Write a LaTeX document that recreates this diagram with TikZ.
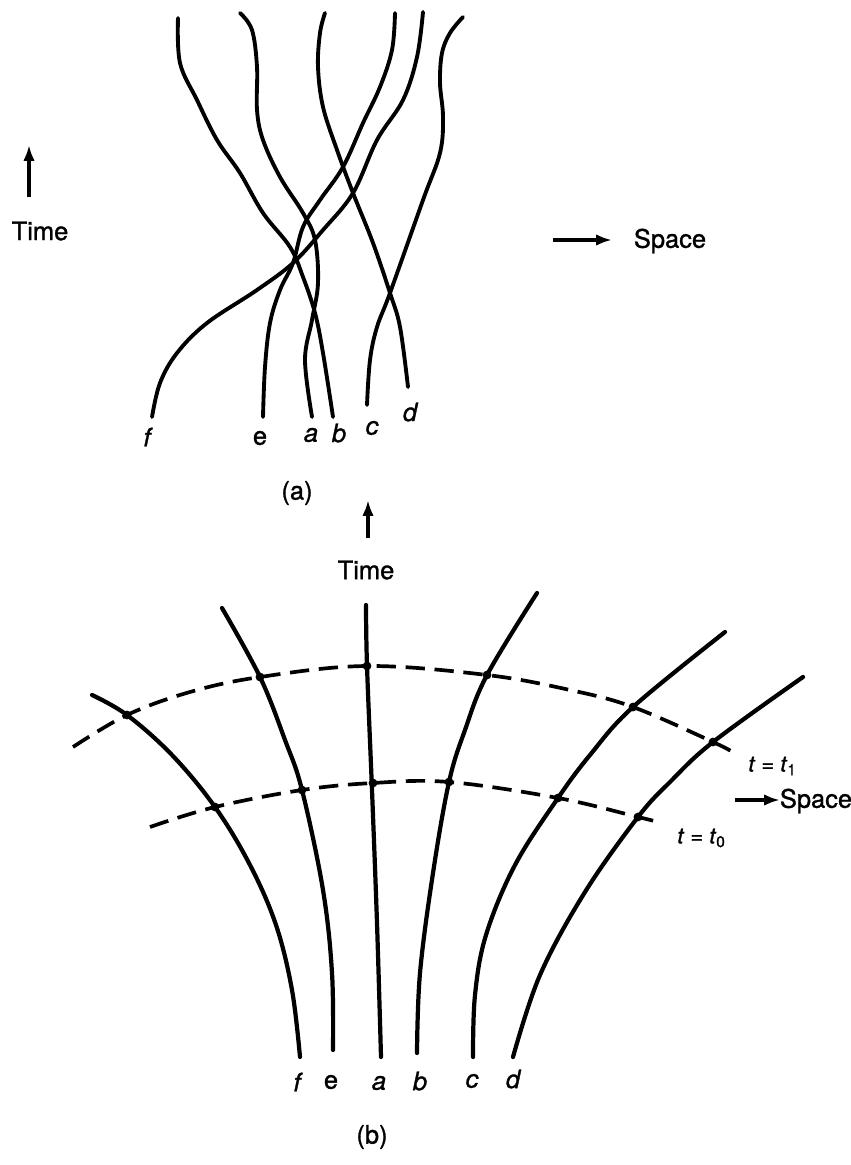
\documentclass[tikz,border=0pt]{standalone}
\usepackage{fontspec}
\setmainfont{TeX Gyre Heros}[RawFeature={embolden=1.2}]
\usetikzlibrary{arrows.meta}

\begin{document}
\begin{tikzpicture}[x=0.02cm,y=-0.02cm,
 wl/.style={line width=2.2pt,line cap=round},
 wlb/.style={line width=2.4pt,line cap=round},
 tslice/.style={line width=2.1pt,dash pattern=on 11pt off 5.5pt},
 ax/.style={-{Latex[length=9pt,width=6.5pt]},line width=1.9pt},
 lbl/.style={font=\fontsize{14.5}{16}\selectfont\itshape,inner sep=0pt},
 txt/.style={font=\fontsize{14.5}{16}\selectfont,inner sep=0pt},
 tl/.style={font=\fontsize{12.5}{14}\selectfont,inner sep=0pt,anchor=west},
 ev/.style={circle,fill,inner sep=0pt,minimum size=5pt}]
\useasboundingbox (0,0) rectangle (850,1165);

% (a) tangled world lines
\draw[wl] plot[smooth,tension=.6] coordinates {(178,18) (180,63) (197,100) (217,140) (240,173) (263,213) (290,247) (303,277) (315,313) (323,353) (333,417)};
\draw[wl] plot[smooth,tension=.6] coordinates {(240,13) (252,30) (257,67) (257,110) (263,140) (280,177) (303,213) (315,240) (318,283) (312,320) (305,360) (312,417)};
\draw[wl] plot[smooth,tension=.6] coordinates {(325,13) (320,33) (318,67) (323,107) (337,150) (353,193) (373,243) (390,293) (400,327) (408,387)};
\draw[wl] plot[smooth,tension=.6] coordinates {(395,13) (392,50) (380,87) (363,123) (343,167) (320,200) (303,227) (293,263) (280,290) (270,323) (265,367) (263,417)};
\draw[wl] plot[smooth,tension=.6] coordinates {(423,12) (417,57) (403,100) (377,140) (353,193) (323,230) (293,263) (257,290) (207,323) (177,353) (160,383) (152,417)};
\draw[wl] plot[smooth,tension=.6] coordinates {(463,17) (450,33) (442,53) (440,83) (443,117) (440,153) (423,200) (390,293) (377,327) (370,360) (367,405)};

\node[lbl] (fa) at (147,437) {f};
\node[txt] (ea) at (260,438) {e};
\node[lbl] (aa) at (311,435) {a};
\node[lbl] (ba) at (339,433) {b};
\node[lbl] (ca) at (372,428) {c};
\node[lbl] (da) at (410,412) {d};
\node[txt] (capa) at (297,493) {(a)};

\coordinate (tat) at (29,145);
\coordinate (taf) at (29,197);
\draw[ax] (taf) -- (tat);
\node[txt] (timea) at (40,231) {Time};
\coordinate (saf) at (553,240);
\coordinate (sat) at (612,240);
\draw[ax] (saf) -- (sat);
\node[txt] (spacea) at (670,241) {Space};

% (b) fanning world lines and time slices
\draw[tslice] plot[smooth,tension=.6] coordinates {(73,747) (127,715) (190,692) (260,677) (367,666) (487,675) (570,690) (633,707) (713,742) (738,755)};
\draw[tslice] plot[smooth,tension=.6] coordinates {(150,827) (215,807) (302,790) (373,783) (449,782) (558,798) (638,817) (662,823)};

\draw[wlb] plot[smooth,tension=.6] coordinates {(92,695) (127,715) (172,755) (215,807) (250,865) (276,925) (292,990) (300,1057)};
\draw[wlb] plot[smooth,tension=.6] coordinates {(222,608) (260,677) (285,740) (302,790) (323,890) (332,973) (333,1050)};
\draw[wlb] plot[smooth,tension=.6] coordinates {(366,605) (367,666) (372,790) (377,923) (381,1057)};
\draw[wlb] plot[smooth,tension=.6] coordinates {(537,593) (487,675) (465,730) (449,782) (433,873) (420,973) (417,1053)};
\draw[wlb] plot[smooth,tension=.6] coordinates {(725,632) (633,707) (590,755) (558,798) (515,865) (486,935) (475,995) (473,1057)};
\draw[wlb] plot[smooth,tension=.6] coordinates {(803,677) (713,742) (670,782) (638,817) (585,892) (540,975) (513,1057)};

\foreach \p in {(127,715),(260,677),(367,666),(487,675),(633,707),(713,742),
                (215,807),(302,790),(373,783),(449,782),(558,798),(638,817)}
  \node[ev] at \p {};

\node[tl] (t1) at (748,766) {\textit{t} = \textit{t}\textsubscript{1}};
\node[tl] (t0) at (677,838) {\textit{t} = \textit{t}\textsubscript{0}};

\node[lbl] (fb) at (297,1082) {f};
\node[txt] (eb) at (331,1082) {e};
\node[lbl] (ab) at (379,1083) {a};
\node[lbl] (bb) at (420,1081) {b};
\node[lbl] (cb) at (472,1081) {c};
\node[lbl] (db) at (513,1079) {d};
\node[txt] (capb) at (372,1137) {(b)};

\coordinate (tbf) at (368,538);
\coordinate (tbt) at (368,500);
\draw[ax] (tbf) -- (tbt);
\node[txt] (timeb) at (366,570) {Time};
\coordinate (sbf) at (735,800);
\coordinate (sbt) at (780,800);
\draw[ax] (sbf) -- (sbt);
\node[txt] (spaceb) at (816,801) {Space};
\end{tikzpicture}
\end{document}
